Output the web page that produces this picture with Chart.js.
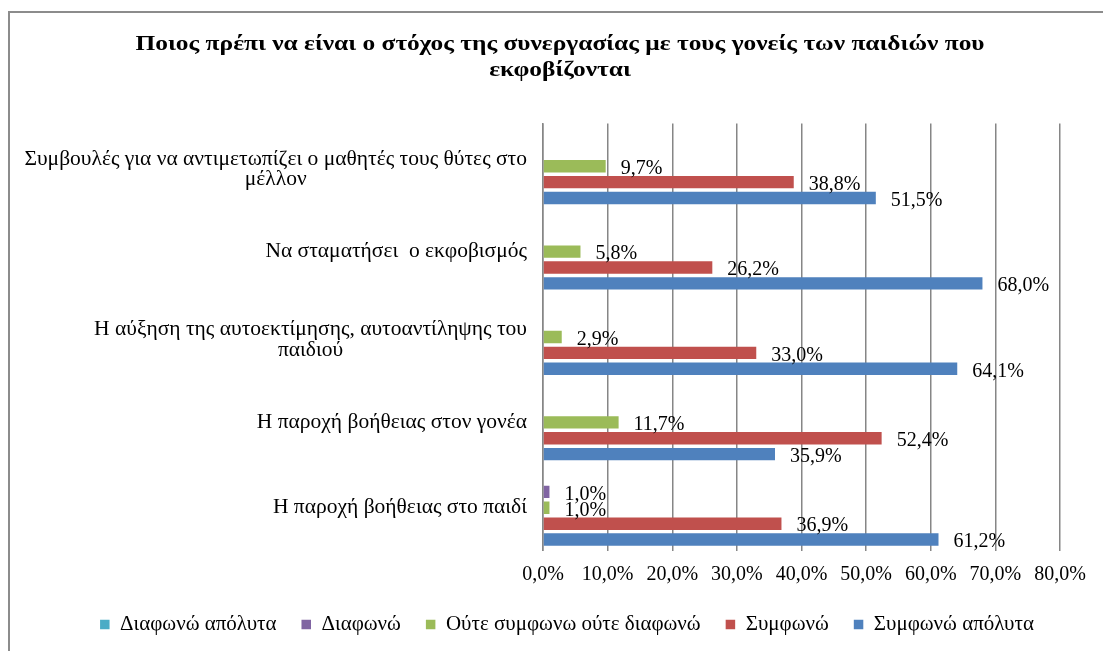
<!DOCTYPE html>
<html>
<head>
<meta charset="utf-8">
<script src="https://cdn.jsdelivr.net/npm/chart.js@4.4.1/dist/chart.umd.min.js"></script>
<style>
  html, body { margin: 0; padding: 0; background: #fff; overflow: hidden; }
  #frame {
    position: absolute; left: 8px; top: 11px;
    width: 1120px; height: 700px;
    border: 2px solid #8c8c8c; box-sizing: border-box;
  }
  #myChart { position: absolute; left: 0; top: 0; }
</style>
</head>
<body>
<div id="frame"></div>
<canvas id="myChart" width="1103" height="651"></canvas>
<script>
const titleLines = [
    'Ποιος πρέπι να είναι ο στόχος της συνεργασίας με τους γονείς των παιδιών που',
    'εκφοβίζονται'
];

const categories = [
    ['Συμβουλές για να αντιμετωπίζει ο μαθητές τους θύτες στο', 'μέλλον'],
    ['Να σταματήσει  ο εκφοβισμός'],
    ['Η αύξηση της αυτοεκτίμησης, αυτοαντίληψης του', 'παιδιού'],
    ['Η παροχή βοήθειας στον γονέα'],
    ['Η παροχή βοήθειας στο παιδί']
];

const seriesNames = ['Διαφωνώ απόλυτα', 'Διαφωνώ', 'Ούτε συμφωνω ούτε διαφωνώ', 'Συμφωνώ', 'Συμφωνώ απόλυτα'];
const seriesColors = ['#4BACC6', '#8064A2', '#9BBB59', '#C0504D', '#4F81BD'];

const diafonoApolyta = [0, 0, 0, 0, 0];
const diafono = [0, 0, 0, 0, 1.0];
const oute = [9.7, 5.8, 2.9, 11.7, 1.0];
const symfono = [38.8, 26.2, 33.0, 52.4, 36.9];
const symfonoApolyta = [51.5, 68.0, 64.1, 35.9, 61.2];

const xTickLabels = ['0,0%', '10,0%', '20,0%', '30,0%', '40,0%', '50,0%', '60,0%', '70,0%', '80,0%'];

const serif = '"Liberation Serif", "Times New Roman", serif';
const gridGray = '#868686';

function pct(v) {
    return v.toFixed(1).replace('.', ',') + '%';
}

// bold two-line heading, drawn a little wider than the font's natural width
const heading = {
    id: 'heading',
    afterDraw(chart) {
        const ctx = chart.ctx;
        const cx = 560;
        ctx.save();
        ctx.font = 'bold 21px ' + serif;
        ctx.fillStyle = '#000';
        ctx.textAlign = 'center';
        ctx.textBaseline = 'middle';
        titleLines.forEach((l, j) => {
            ctx.save();
            ctx.translate(cx, 45 + j * 26);
            ctx.scale(1.21, 1);
            ctx.fillText(l, 0, 0);
            ctx.restore();
        });
        ctx.restore();
    }
};

// category names: block right-aligned against the axis, lines centred inside the block
const categoryLabels = {
    id: 'categoryLabels',
    afterDraw(chart) {
        const ctx = chart.ctx;
        const y = chart.scales.y;
        const right = chart.chartArea.left - 16;
        const lineH = 20.5;
        ctx.save();
        ctx.font = '21.5px ' + serif;
        ctx.fillStyle = '#000';
        ctx.textAlign = 'center';
        ctx.textBaseline = 'middle';
        categories.forEach((lines, i) => {
            const w = Math.max(...lines.map(l => ctx.measureText(l).width));
            const cx = right - w / 2;
            const cy = y.getPixelForTick(i) + (lines.length - 1) * 3;
            lines.forEach((l, j) => {
                ctx.fillText(l, cx, cy + (j - (lines.length - 1) / 2) * lineH);
            });
        });
        ctx.restore();
    }
};

// value labels next to each bar end
const valueLabels = {
    id: 'valueLabels',
    afterDatasetsDraw(chart) {
        const ctx = chart.ctx;
        ctx.save();
        ctx.font = '20px ' + serif;
        ctx.fillStyle = '#000';
        ctx.textAlign = 'left';
        ctx.textBaseline = 'middle';
        chart.data.datasets.forEach((ds, di) => {
            const meta = chart.getDatasetMeta(di);
            meta.data.forEach((bar, i) => {
                const v = ds.data[i];
                if (!v) return;
                ctx.fillText(pct(v), bar.x + 15, bar.y + 2.5);
            });
        });
        ctx.restore();
    }
};

const allData = [diafonoApolyta, diafono, oute, symfono, symfonoApolyta];

var ctx = document.getElementById('myChart').getContext('2d');

var myChart = new Chart(ctx, {
    type: 'bar',
    data: {
        labels: categories,
        datasets: allData.map((d, k) => ({
            label: seriesNames[k],
            data: d,
            backgroundColor: seriesColors[k],
            borderWidth: 0,
            categoryPercentage: 0.93,
            barPercentage: 0.78
        }))
    },
    plugins: [heading, categoryLabels, valueLabels],
    options: {
        indexAxis: 'y',
        responsive: false,
        animation: false,
        devicePixelRatio: 1,
        layout: {
            padding: { left: 74, right: 43, top: 123.5, bottom: 6 }
        },
        scales: {
            x: {
                min: 0,
                max: 80,
                ticks: {
                    stepSize: 10,
                    color: '#000',
                    font: { family: serif, size: 20 },
                    padding: 12,
                    callback: function (value, index) {
                        return xTickLabels[index];
                    }
                },
                grid: {
                    color: gridGray,
                    lineWidth: 1.5,
                    drawTicks: false
                },
                border: { display: false },
                afterFit: function (scale) {
                    scale.height -= 9.5;
                }
            },
            y: {
                ticks: { display: false },
                grid: { display: false, drawTicks: false },
                border: { display: true, color: gridGray, width: 1.5 },
                afterFit: function (scale) {
                    scale.width = 469;
                }
            }
        },
        plugins: {
            title: { display: false },
            legend: {
                position: 'bottom',
                labels: {
                    color: '#000',
                    font: { family: serif, size: 21 },
                    boxWidth: 9.5,
                    boxHeight: 9.5,
                    padding: 25
                }
            },
            tooltip: { enabled: false }
        }
    }
});
</script>
</body>
</html>
